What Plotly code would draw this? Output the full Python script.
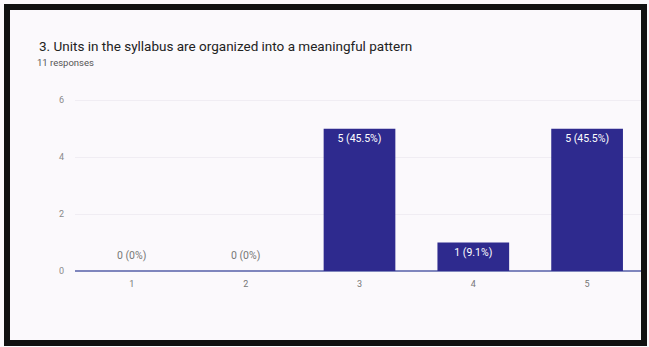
import plotly.graph_objects as go

categories = ["1", "2", "3", "4", "5"]
counts = [0, 0, 5, 1, 5]
bar_labels = ["0 (0%)", "0 (0%)", "5 (45.5%)", "1 (9.1%)", "5 (45.5%)"]
y_ticks = [0, 2, 4, 6]
title_text = "3. Units in the syllabus are organized into a meaningful pattern"
subtitle_text = "11 responses"

W, H = 649, 347
L, R, T, B = 75, 5, 86, 76
pw = W - L - R
ph = H - T - B

def px(x):
    return (x - L) / pw

def py(y):
    return (H - B - y) / ph

x_num = [int(c) for c in categories]
inside_text = [t if v > 0 else "" for t, v in zip(bar_labels, counts)]

fig = go.Figure()
fig.add_trace(go.Bar(
    x=x_num, y=counts, text=inside_text, textposition="inside",
    insidetextanchor="end",
    insidetextfont=dict(color="white", size=10.5, family="Roboto"),
    marker=dict(color="#2e2a8e", line=dict(width=0)),
    cliponaxis=False,
    hoverinfo="skip",
))

annotations = [
    dict(text=title_text, xref="paper", yref="paper", x=px(37), y=py(46),
         xanchor="left", yanchor="middle", showarrow=False,
         font=dict(family="Roboto", size=13.5, color="#222222")),
    dict(text=subtitle_text, xref="paper", yref="paper", x=px(35), y=py(63),
         xanchor="left", yanchor="middle", showarrow=False,
         font=dict(family="Roboto", size=9.5, color="#555555")),
]
for xv, v, t in zip(x_num, counts, bar_labels):
    if v == 0:
        annotations.append(dict(
            text=t, x=xv, y=v, xref="x", yref="y", yanchor="middle",
            yshift=16, showarrow=False,
            font=dict(family="Roboto", size=10.5, color="#777777")))

fig.update_layout(
    width=W, height=H,
    margin=dict(l=L, r=R, t=T, b=B, pad=0),
    paper_bgcolor="#fbf9fc",
    plot_bgcolor="#fbf9fc",
    bargap=0.37,
    showlegend=False,
    font=dict(family="Roboto", color="#888888", size=9),
    xaxis=dict(
        range=[0.5, 5.5], tickmode="array", tickvals=x_num, ticktext=categories,
        showgrid=False, zeroline=False, showline=False, ticks="",
        ticklabelstandoff=6,
        tickfont=dict(size=9, color="#777777"),
    ),
    yaxis=dict(
        range=[0, 6.5], tickmode="array", tickvals=y_ticks,
        showgrid=True, gridcolor="#f0edf3", gridwidth=1,
        zeroline=True, zerolinecolor="#7f86bd", zerolinewidth=1.5,
        showline=False, ticks="", ticklabelstandoff=10,
        tickfont=dict(size=9, color="#8a8a8a"),
    ),
    shapes=[dict(
        type="rect", xref="paper", yref="paper",
        x0=px(7), x1=px(644), y0=py(7), y1=py(343),
        line=dict(color="#111111", width=6), fillcolor="rgba(0,0,0,0)",
        layer="above",
    )],
    annotations=annotations,
)

fig.write_html("out.html", config={"displayModeBar": False},
               post_script="document.body.style.margin='0';")
